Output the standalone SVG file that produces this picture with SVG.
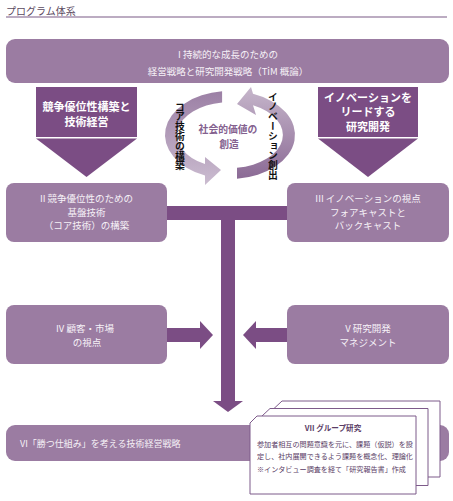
<svg xmlns="http://www.w3.org/2000/svg" width="453" height="501" viewBox="0 0 453 501">
<defs>
<style>
text{font-family:"Noto Sans CJK JP","Noto Sans CJK SC",sans-serif}
.box{fill:#9b7ca2}
.dark{fill:#7b4d84}
.bt{fill:#f6f1f7;font-size:9.5px;text-anchor:middle}
.bn{fill:#ffffff;font-size:11px;font-weight:bold;text-anchor:middle}
.card{fill:#ffffff;stroke:#7d5a8a;stroke-width:1}
.ct{fill:#5a3d66;font-size:7.1px}
.vt{fill:#111111;font-size:9.8px;font-weight:bold;writing-mode:vertical-rl}
</style>
<linearGradient id="gL" x1="0" y1="0" x2="0" y2="1">
<stop offset="0" stop-color="#9c80a5"/>
<stop offset="1" stop-color="#cbbcd0"/>
</linearGradient>
<linearGradient id="gR" x1="0" y1="0" x2="0" y2="1">
<stop offset="0" stop-color="#c6b6cb"/>
<stop offset="1" stop-color="#8b6a95"/>
</linearGradient>
</defs>

<g id="header">
<text x="6" y="14.5" style="font-size:10px;fill:#5b4a5f">プログラム体系</text>
<line x1="6" y1="17" x2="447" y2="17" stroke="#7b5a86" stroke-width="1.2"/>
</g>

<g id="connectors">
<rect class="dark" x="167" y="206" width="120" height="14"/>
<rect class="dark" x="221" y="206" width="14" height="196"/>
<polygon class="dark" points="213,401 243,401 228,412"/>
<rect class="dark" x="167" y="328" width="34" height="14"/>
<polygon class="dark" points="200,321 213,335 200,349"/>
<rect class="dark" x="255" y="328" width="32" height="14"/>
<polygon class="dark" points="256,321 243,335 256,349"/>
</g>

<g id="node-I">
<rect class="box" x="6" y="39" width="443" height="44" rx="9"/>
<text class="bt" x="228" y="58">I  持続的な成長のための</text>
<text class="bt" x="228" y="74.5">経営戦略と研究開発戦略（TiM 概論）</text>
</g>

<g id="banner-left">
<rect class="dark" x="36" y="87" width="101" height="50"/>
<polygon class="dark" points="36,138.5 137,138.5 86.5,177"/>
<text class="bn" x="86.5" y="111">競争優位性構築と</text>
<text class="bn" x="86.5" y="126">技術経営</text>
</g>

<g id="banner-right">
<rect class="dark" x="318" y="87" width="100" height="50"/>
<polygon class="dark" points="318,138.5 418,138.5 368,177"/>
<text class="bn" x="368" y="101.5">イノベーションを</text>
<text class="bn" x="368" y="116">リードする</text>
<text class="bn" x="368" y="130.5">研究開発</text>
</g>

<g id="cycle">
<path fill="url(#gL)" d="M222.1,91.3 A65,44 0 0 0 205,175.6 L205,185 L221,170 L205,157 L205,164.1 A53,33 0 0 1 222.1,102.4 Z"/>
<path fill="url(#gR)" d="M237,178.7 A65,44 0 0 0 253,93.8 L251,87 L237,104 L256,115 L253,105.3 A53,33 0 0 1 237,167.7 Z"/>
<text class="vt" x="180" y="102">コア技術の構築</text>
<text class="vt" x="273" y="92">イノベーション創出</text>
<text x="228" y="132.5" style="fill:#84618f;font-size:9.8px;font-weight:bold;text-anchor:middle">社会的価値の</text>
<text x="229" y="148" style="fill:#84618f;font-size:9.8px;font-weight:bold;text-anchor:middle">創造</text>
</g>

<g id="node-II">
<rect class="box" x="6" y="183" width="161" height="59" rx="8"/>
<text class="bt" x="86.5" y="201.5">II 競争優位性のための</text>
<text class="bt" x="86.5" y="215.5">基盤技術</text>
<text class="bt" x="86.5" y="229">（コア技術）の構築</text>
</g>

<g id="node-III">
<rect class="box" x="287" y="183" width="162" height="59" rx="8"/>
<text class="bt" x="368" y="201.5">III イノベーションの視点</text>
<text class="bt" x="368" y="215.5">フォアキャストと</text>
<text class="bt" x="368" y="229">バックキャスト</text>
</g>

<g id="node-IV">
<rect class="box" x="6" y="305" width="161" height="59" rx="8"/>
<text class="bt" x="85" y="331.5">IV 顧客・市場</text>
<text class="bt" x="87" y="346">の視点</text>
</g>

<g id="node-V">
<rect class="box" x="287" y="305" width="162" height="59" rx="8"/>
<text class="bt" x="368" y="331.5">V 研究開発</text>
<text class="bt" x="368" y="346">マネジメント</text>
</g>

<g id="node-VI">
<rect class="box" x="6" y="425" width="443" height="36" rx="9"/>
<text x="20" y="446.5" style="fill:#f6f1f7;font-size:9px">VI「勝つ仕組み」を考える技術経営戦略</text>
</g>

<g id="node-VII">
<polygon class="card" points="282,401 440,401 440,477 274,477 274,408.5"/>
<polygon class="card" points="270,408.5 428,408.5 428,485.5 262,485.5 262,416"/>
<polygon class="card" points="257,416 416,416 416,494 250,494 250,423"/>
<text x="333" y="431" style="fill:#5a3d66;font-size:7.6px;font-weight:bold;text-anchor:middle">VII グループ研究</text>
<text class="ct" x="257" y="446.5">参加者相互の問題意識を元に、課題（仮説）を設</text>
<text class="ct" x="257" y="459">定し、社内展開できるよう課題を概念化、理論化</text>
<text class="ct" x="257" y="471.5">※インタビュー調査を経て「研究報告書」作成</text>
</g>
</svg>
